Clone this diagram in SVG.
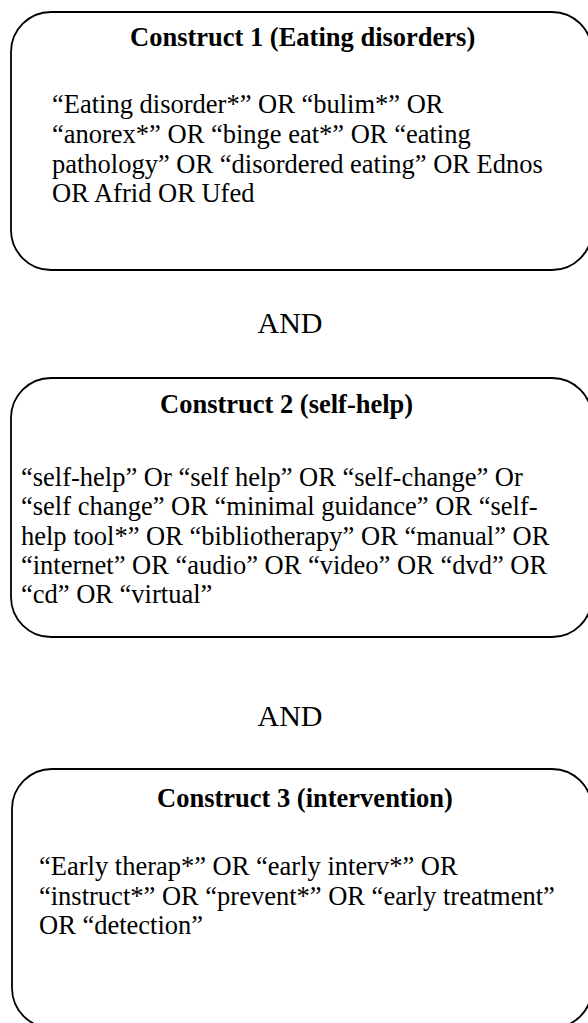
<svg xmlns="http://www.w3.org/2000/svg" width="588" height="1023" viewBox="0 0 588 1023">
<style>
.box{fill:#fff;stroke:#000;stroke-width:1.8}
.t{font-family:"Liberation Serif","Times New Roman",serif;font-size:26.5px;fill:#000}
.b{font-weight:bold}
.and{font-family:"Liberation Serif","Times New Roman",serif;font-size:30px;fill:#000}
</style>
<rect width="588" height="1023" fill="#fff"/>
<g id="construct1">
<rect class="box" x="11" y="12" width="581" height="258" rx="40" ry="40"/>
<text class="t b" x="130" y="46">Construct 1 (Eating disorders)</text>
<text class="t" x="52" y="113">“Eating disorder*” OR “bulim*” OR</text>
<text class="t" x="52" y="143">“anorex*” OR “binge eat*” OR “eating</text>
<text class="t" x="52" y="172.5">pathology” OR “disordered eating” OR Ednos</text>
<text class="t" x="52" y="202">OR Afrid OR Ufed</text>
</g>
<g id="and1">
<text class="and" x="290" y="333" text-anchor="middle">AND</text>
</g>
<g id="construct2">
<rect class="box" x="11" y="378" width="581" height="259" rx="40" ry="40"/>
<text class="t b" x="160" y="413">Construct 2 (self-help)</text>
<text class="t" x="21" y="486">“self-help” Or “self help” OR “self-change” Or</text>
<text class="t" x="21" y="515">“self change” OR “minimal guidance” OR “self-</text>
<text class="t" x="21" y="544.5">help tool*” OR “bibliotherapy” OR “manual” OR</text>
<text class="t" x="21" y="574">“internet” OR “audio” OR “video” OR “dvd” OR</text>
<text class="t" x="21" y="603">“cd” OR “virtual”</text>
</g>
<g id="and2">
<text class="and" x="290" y="726" text-anchor="middle">AND</text>
</g>
<g id="construct3">
<rect class="box" x="12" y="769" width="580" height="259" rx="40" ry="40"/>
<text class="t b" x="157" y="807">Construct 3 (intervention)</text>
<text class="t" x="39" y="875">“Early therap*” OR “early interv*” OR</text>
<text class="t" x="39" y="904.5">“instruct*” OR “prevent*” OR “early treatment”</text>
<text class="t" x="39" y="934">OR “detection”</text>
</g>
<g id="connectors"/>
</svg>
